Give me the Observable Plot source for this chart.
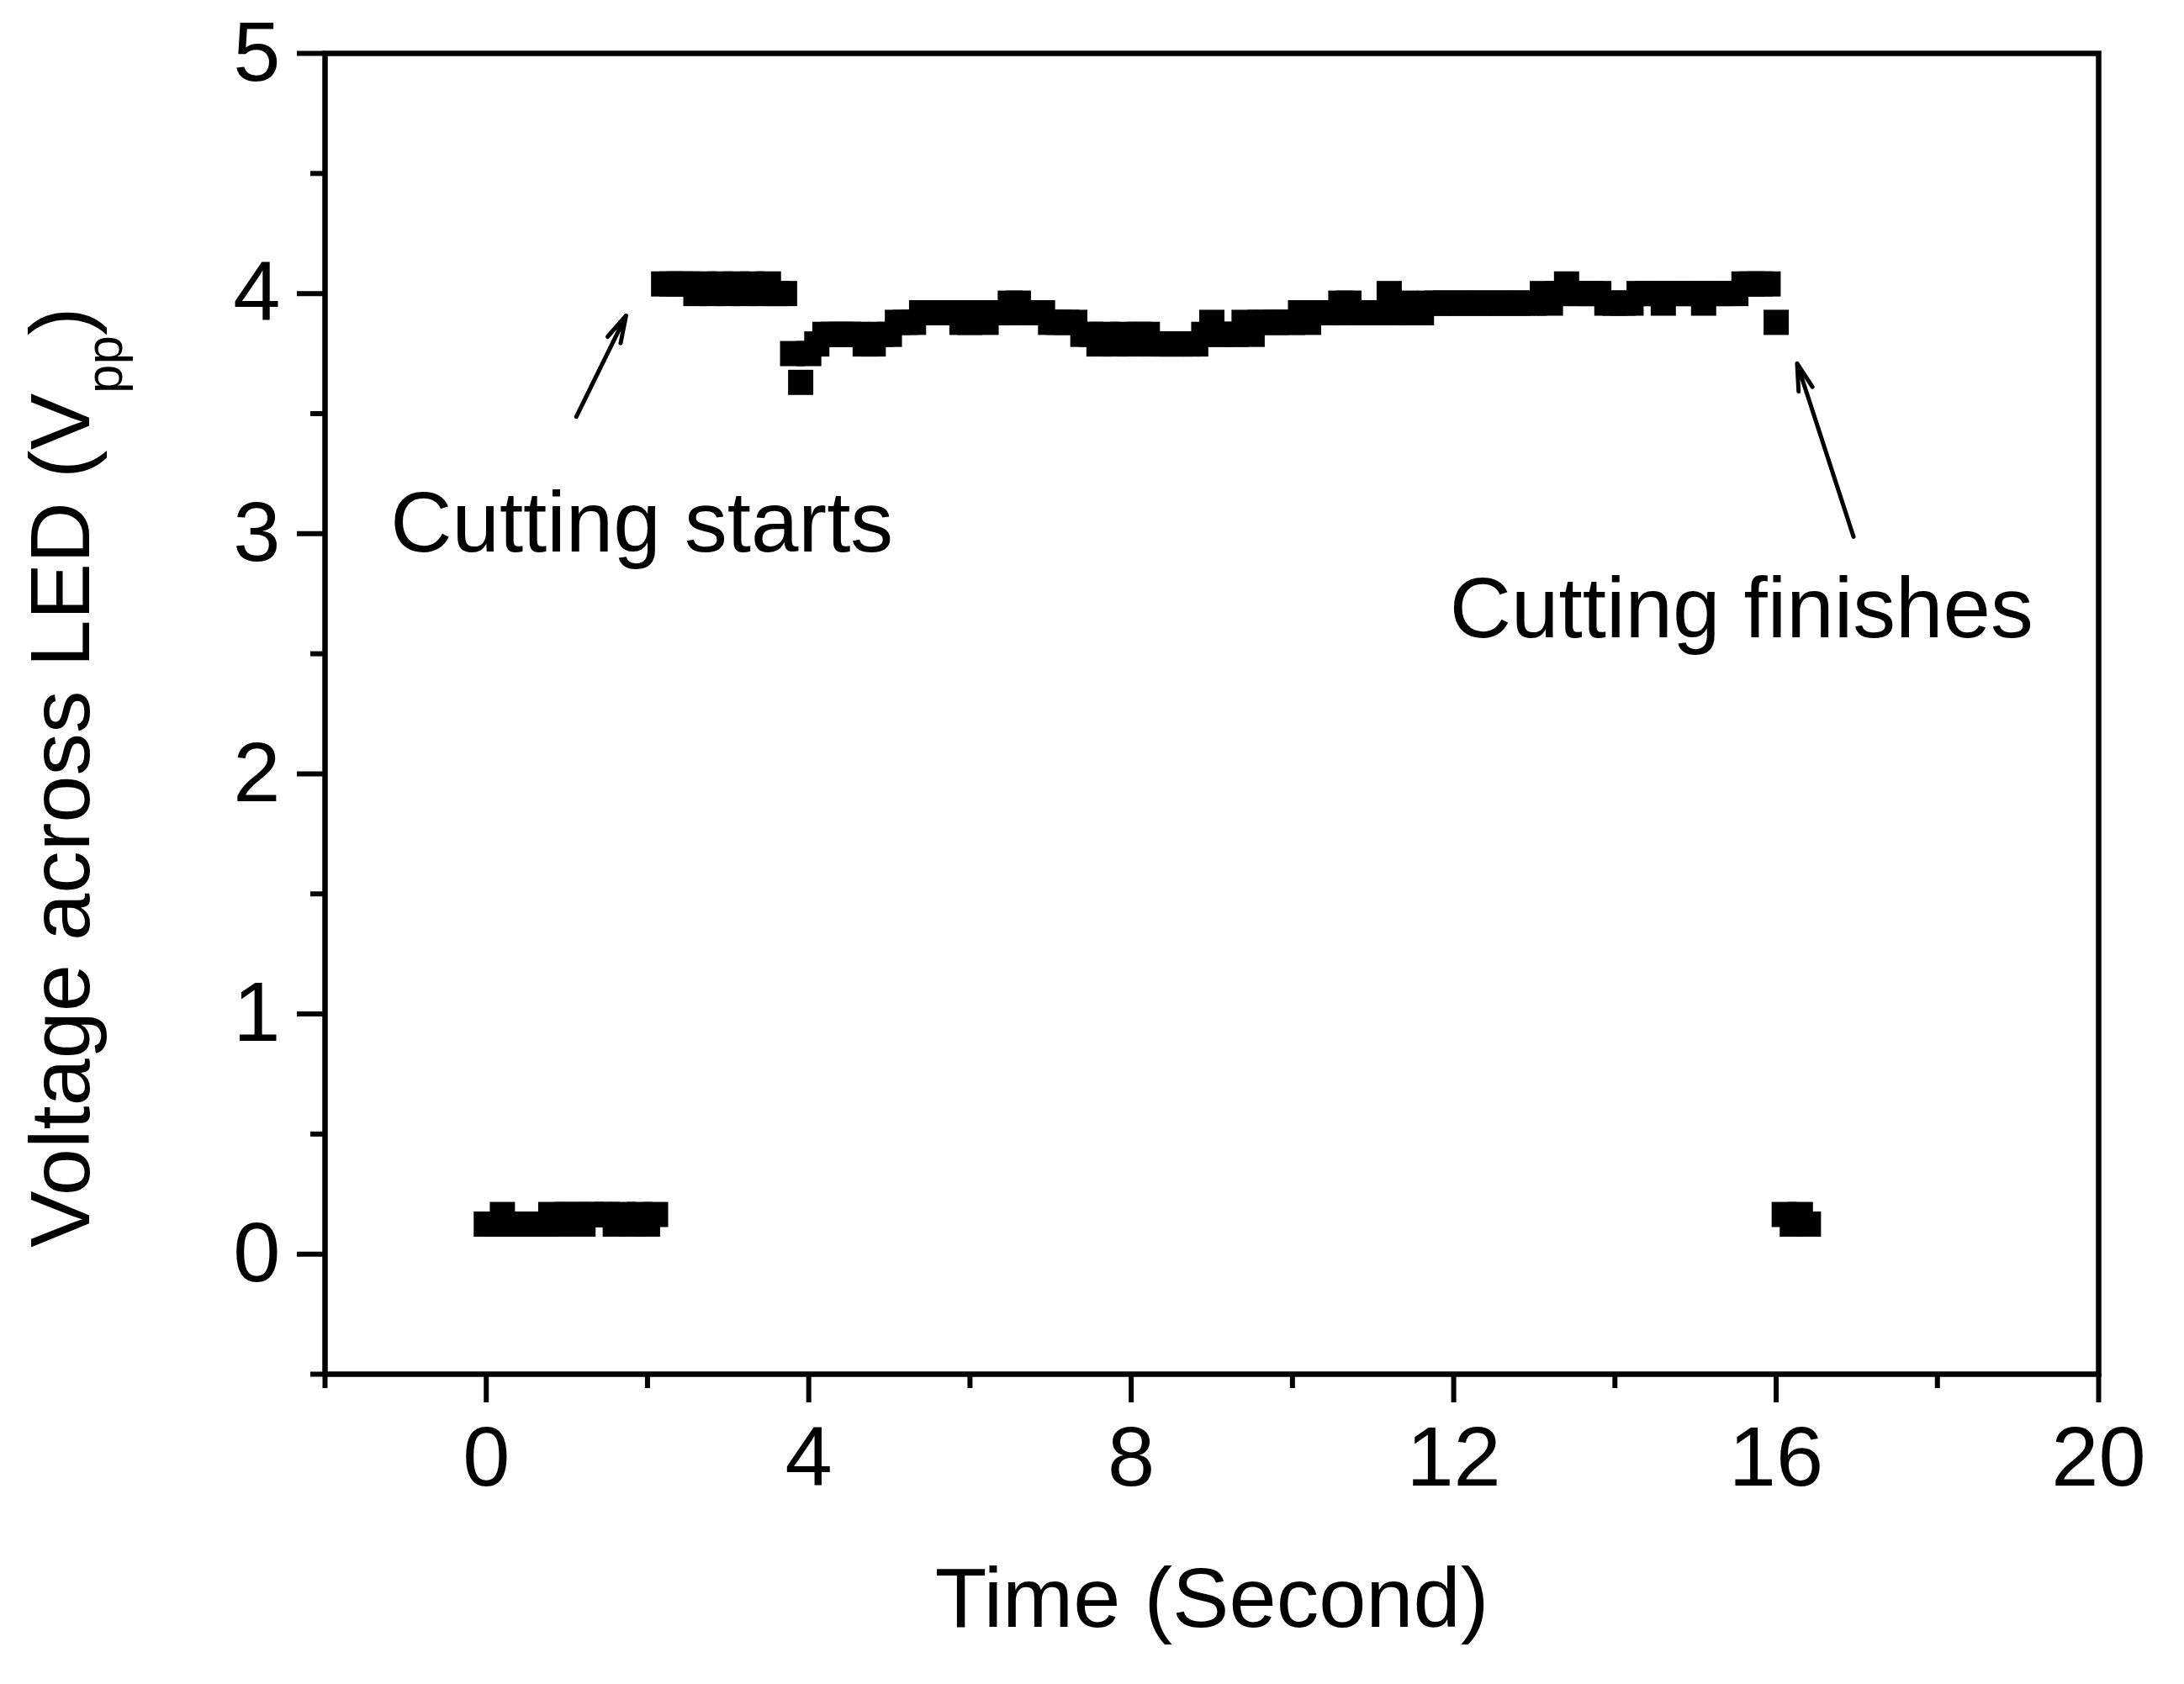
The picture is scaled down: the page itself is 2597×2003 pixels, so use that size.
<!DOCTYPE html>
<html>
<head>
<meta charset="utf-8">
<script src="https://cdn.jsdelivr.net/npm/d3@7"></script>
<script src="https://cdn.jsdelivr.net/npm/@observablehq/plot@0.6"></script>
<style>
  html, body { margin: 0; padding: 0; background: #fff; }
  svg { display: block; }
</style>
</head>
<body>
<div id="chart"></div>
<script>
// ---- data ----
const time = [
  0.0, 0.1, 0.2, 0.3, 0.4, 0.5, 0.6, 0.7, 0.8, 0.9,
  1.0, 1.1, 1.2, 1.3, 1.4, 1.5, 1.6, 1.7, 1.8, 1.9,
  2.0, 2.1, 2.2, 2.3, 2.4, 2.5, 2.6, 2.7, 2.8, 2.9,
  3.0, 3.1, 3.2, 3.3, 3.4, 3.5, 3.6, 3.7, 3.8, 3.9,
  4.0, 4.1, 4.2, 4.3, 4.4, 4.5, 4.6, 4.7, 4.8, 4.9,
  5.0, 5.1, 5.2, 5.3, 5.4, 5.5, 5.6, 5.7, 5.8, 5.9,
  6.0, 6.1, 6.2, 6.3, 6.4, 6.5, 6.6, 6.7, 6.8, 6.9,
  7.0, 7.1, 7.2, 7.3, 7.4, 7.5, 7.6, 7.7, 7.8, 7.9,
  8.0, 8.1, 8.2, 8.3, 8.4, 8.5, 8.6, 8.7, 8.8, 8.9,
  9.0, 9.1, 9.2, 9.3, 9.4, 9.5, 9.6, 9.7, 9.8, 9.9,
  10.0, 10.1, 10.2, 10.3, 10.4, 10.5, 10.6, 10.7, 10.8, 10.9,
  11.0, 11.1, 11.2, 11.3, 11.4, 11.5, 11.6, 11.7, 11.8, 11.9,
  12.0, 12.1, 12.2, 12.3, 12.4, 12.5, 12.6, 12.7, 12.8, 12.9,
  13.0, 13.1, 13.2, 13.3, 13.4, 13.5, 13.6, 13.7, 13.8, 13.9,
  14.0, 14.1, 14.2, 14.3, 14.4, 14.5, 14.6, 14.7, 14.8, 14.9,
  15.0, 15.1, 15.2, 15.3, 15.4, 15.5, 15.6, 15.7, 15.8, 15.9,
  16.0, 16.1, 16.2, 16.3, 16.4
];
const voltage = [
  0.125, 0.125, 0.165, 0.125, 0.125, 0.125, 0.125, 0.125, 0.165, 0.125,
  0.165, 0.165, 0.125, 0.165, 0.165, 0.165, 0.125, 0.165, 0.125, 0.165,
  0.125, 0.165, 4.04, 4.04, 4.04, 4.04, 4.00, 4.04, 4.00, 4.04,
  4.00, 4.04, 4.00, 4.04, 4.00, 4.04, 4.00, 4.00, 3.75, 3.63,
  3.75, 3.79, 3.83, 3.83, 3.83, 3.83, 3.83, 3.79, 3.79, 3.83,
  3.83, 3.88, 3.88, 3.88, 3.92, 3.92, 3.92, 3.92, 3.92, 3.88,
  3.88, 3.92, 3.88, 3.92, 3.92, 3.96, 3.96, 3.92, 3.92, 3.92,
  3.88, 3.88, 3.88, 3.88, 3.83, 3.83, 3.79, 3.83, 3.79, 3.83,
  3.79, 3.83, 3.83, 3.79, 3.79, 3.79, 3.79, 3.79, 3.79, 3.83,
  3.88, 3.83, 3.83, 3.83, 3.88, 3.83, 3.88, 3.88, 3.88, 3.88,
  3.88, 3.92, 3.88, 3.92, 3.92, 3.92, 3.96, 3.96, 3.92, 3.92,
  3.92, 3.92, 4.00, 3.92, 3.96, 3.92, 3.92, 3.96, 3.96, 3.96,
  3.96, 3.96, 3.96, 3.96, 3.96, 3.96, 3.96, 3.96, 3.96, 3.96,
  3.96, 4.00, 3.96, 4.00, 4.04, 4.00, 4.00, 4.00, 4.00, 3.96,
  3.96, 3.96, 3.96, 4.00, 4.00, 4.00, 3.96, 4.00, 4.00, 4.00,
  4.00, 3.96, 4.00, 4.00, 4.00, 4.00, 4.04, 4.04, 4.04, 4.04,
  3.88, 0.165, 0.125, 0.165, 0.125
];

const xDomain = [-2, 20];
const yDomain = [-0.5, 5];
const xMajorTicks = [0, 4, 8, 12, 16, 20];
const xMinorTicks = [-2, 2, 6, 10, 14, 18];
const yMajorTicks = [0, 1, 2, 3, 4, 5];
const yMinorTicks = [-0.5, 0.5, 1.5, 2.5, 3.5, 4.5];

const xLabel = "Time (Second)";
const yLabelMain = "Voltage across LED (V";
const yLabelSub = "pp";
const yLabelEnd = ")";

const noteText = ["Cutting starts", "Cutting finishes"];
const noteX = [-1.19, 11.95];
const noteY = [2.924, 2.57];
const arrowX1 = [1.117, 16.96];
const arrowY1 = [3.487, 2.987];
const arrowX2 = [1.734, 16.26];
const arrowY2 = [3.908, 3.709];

// ---- chart ----
const font = "'Liberation Sans', Arial, Helvetica, sans-serif";
const points = time.map((t, i) => ({t, v: voltage[i]}));
const intFormat = d => String(d);

const chart = Plot.plot({
  width: 2597,
  height: 2003,
  marginLeft: 386,
  marginRight: 102,
  marginTop: 63,
  marginBottom: 369,
  style: {fontFamily: font, background: "white", color: "black"},
  x: {domain: xDomain},
  y: {domain: yDomain},
  marks: [
    Plot.axisX({ticks: xMajorTicks, tickSize: 34, tickPadding: 27, fontSize: 101, strokeWidth: 6,
      stroke: "black", fill: "black", tickFormat: intFormat,
      label: xLabel, labelAnchor: "center", labelOffset: 300, labelArrow: "none"}),
    Plot.axisX({ticks: xMinorTicks, tickSize: 17, strokeWidth: 6, stroke: "black", tickFormat: () => "", label: null}),
    Plot.axisY({ticks: yMajorTicks, tickSize: 33, tickPadding: 20, fontSize: 101, strokeWidth: 6,
      stroke: "black", fill: "black", tickFormat: intFormat, label: null}),
    Plot.axisY({ticks: yMinorTicks, tickSize: 17, strokeWidth: 6, stroke: "black", tickFormat: () => "", label: null}),
    Plot.frame({stroke: "black", strokeWidth: 6.5}),
    Plot.dot(points, {x: "t", y: "v", symbol: "square", r: 16.9, fill: "black", stroke: "none"}),
    Plot.arrow(noteText, {
      x1: (d, i) => arrowX1[i], y1: (d, i) => arrowY1[i],
      x2: (d, i) => arrowX2[i], y2: (d, i) => arrowY2[i],
      stroke: "black", strokeWidth: 5, headAngle: 30, headLength: 10
    }),
    Plot.text(noteText, {
      x: (d, i) => noteX[i], y: (d, i) => noteY[i], text: d => d,
      textAnchor: "start", lineAnchor: "bottom", fontSize: 101.5, fill: "black"
    })
  ]
});

// y-axis title with subscript
const svg = d3.select(chart);
const yt = svg.append("text")
  .attr("transform", "translate(106,1484) rotate(-90)")
  .attr("font-family", font)
  .attr("font-size", 101)
  .attr("fill", "black")
  .attr("text-anchor", "start");
yt.append("tspan").text(yLabelMain);
yt.append("tspan").attr("font-size", 62).attr("dy", 39).text(yLabelSub);
yt.append("tspan").attr("dy", -39).text(yLabelEnd);

document.getElementById("chart").appendChild(chart);
</script>
</body>
</html>
